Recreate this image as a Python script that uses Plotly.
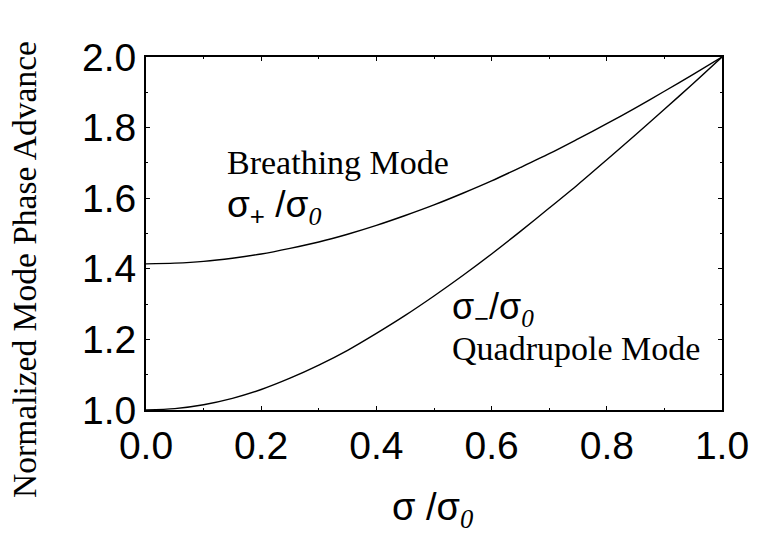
import plotly.graph_objects as go

# Normalized phase advance sigma/sigma0 (horizontal axis)
sigma_ratio = [0.0, 0.05, 0.1, 0.15, 0.2, 0.25, 0.3, 0.35, 0.4, 0.45, 0.5,
               0.55, 0.6, 0.65, 0.7, 0.75, 0.8, 0.85, 0.9, 0.95, 1.0]
# Breathing (envelope) mode  sigma+/sigma0
breathing = [1.414, 1.416, 1.421, 1.430, 1.442, 1.458, 1.476, 1.498, 1.523, 1.551, 1.581,
             1.614, 1.649, 1.687, 1.726, 1.768, 1.811, 1.856, 1.903, 1.951, 2.0]
# Quadrupole mode  sigma-/sigma0
quadrupole = [1.0, 1.004, 1.015, 1.033, 1.058, 1.090, 1.127, 1.169, 1.217, 1.268, 1.323,
              1.381, 1.442, 1.506, 1.572, 1.639, 1.709, 1.780, 1.852, 1.925, 2.0]

x_ticks = [0.0, 0.2, 0.4, 0.6, 0.8, 1.0]
y_ticks = [1.0, 1.2, 1.4, 1.6, 1.8, 2.0]

SANS = "Liberation Sans, Arial, sans-serif"
SERIF = "Liberation Serif, Times New Roman, serif"

fig = go.Figure()
for ys, name in [(breathing, "breathing"), (quadrupole, "quadrupole")]:
    fig.add_trace(go.Scatter(
        x=sigma_ratio, y=ys, mode="lines", name=name,
        line=dict(color="black", width=1.4, shape="spline", smoothing=0.8),
        showlegend=False, hoverinfo="skip",
    ))

axis_common = dict(
    showline=True, linecolor="black", linewidth=2, mirror="ticks",
    ticks="inside", ticklen=4, tickwidth=1, tickcolor="black",
    showgrid=False, zeroline=False,
    tickfont=dict(family=SANS, size=39, color="black"),
    minor=dict(ticks="inside", ticklen=2, tickwidth=1, tickcolor="black"),
)

fig.update_xaxes(range=[0, 1], tickvals=x_ticks,
                 ticktext=[f"{v:.1f}" for v in x_ticks],
                 minor_dtick=0.1, **axis_common)
fig.update_yaxes(range=[1, 2], tickvals=y_ticks,
                 ticktext=[f"{v:.1f}" for v in y_ticks],
                 minor_dtick=0.1, **axis_common)

sub0 = "<sub><span style='font-family:Liberation Serif;font-style:italic'>0</span></sub>"

annotations = [
    # axis titles
    dict(text="Normalized Mode Phase Advance", xref="paper", yref="paper",
         x=-0.21, y=0.397, textangle=-90, showarrow=False,
         xanchor="center", yanchor="middle",
         font=dict(family=SERIF, size=33.5, color="black")),
    dict(text="σ /σ" + sub0, xref="paper", yref="paper",
         x=0.497, y=-0.283, showarrow=False,
         xanchor="center", yanchor="middle",
         font=dict(family=SANS, size=38, color="black")),
    # curve labels
    dict(text="Breathing Mode", x=0.137, y=1.70, showarrow=False,
         xanchor="left", yanchor="middle",
         font=dict(family=SERIF, size=34, color="black")),
    dict(text="σ<sub>+</sub> /σ" + sub0, x=0.137, y=1.575, showarrow=False,
         xanchor="left", yanchor="middle",
         font=dict(family=SANS, size=37, color="black")),
    dict(text="σ<sub>−</sub>/σ" + sub0, x=0.528, y=1.285, showarrow=False,
         xanchor="left", yanchor="middle",
         font=dict(family=SANS, size=36, color="black")),
    dict(text="Quadrupole Mode", x=0.528, y=1.173, showarrow=False,
         xanchor="left", yanchor="middle",
         font=dict(family=SERIF, size=34, color="black")),
]

fig.update_layout(
    width=762, height=539,
    margin=dict(l=146, r=40, t=57, b=129),
    paper_bgcolor="white", plot_bgcolor="white",
    annotations=annotations,
)

fig.write_html("out.html")
